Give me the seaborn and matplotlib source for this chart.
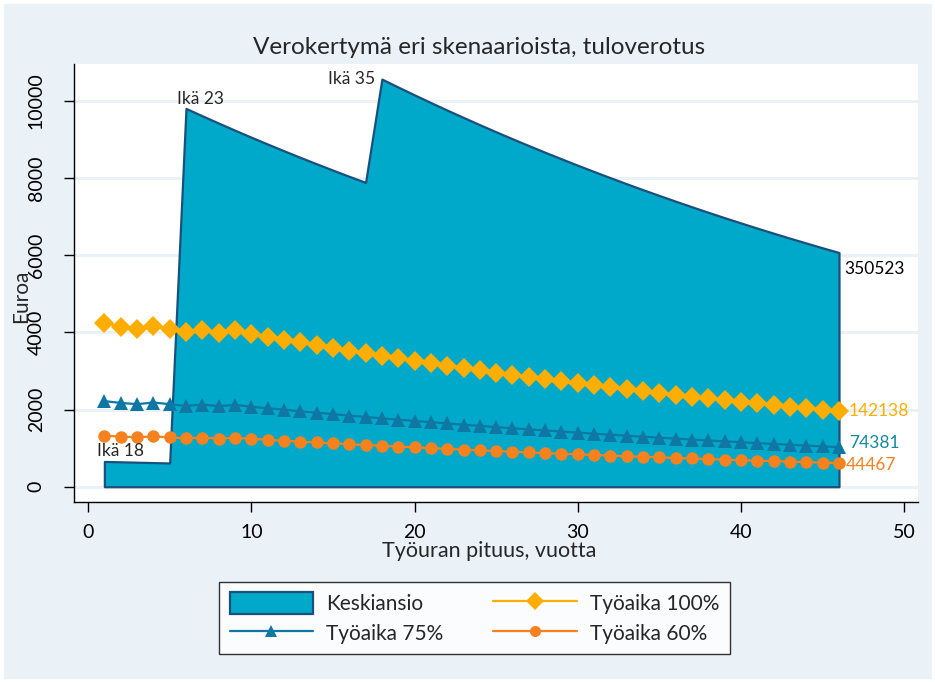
import matplotlib
matplotlib.use("Agg")
import matplotlib.pyplot as plt
import seaborn as sns
from matplotlib.patches import Rectangle, Patch
from matplotlib.lines import Line2D

# työuran vuodet 1..46
vuodet = list(range(1, 47))

keskiansio = [655, 645, 635, 625, 615,
              9800, 9608, 9420, 9235, 9054, 8877, 8703, 8532, 8365, 8201, 8040, 7883,
              10560, 10353, 10150, 9951, 9756, 9565, 9377, 9193, 9013, 8837, 8663, 8494,
              8327, 8164, 8004, 7847, 7693, 7543, 7395, 7250, 7108, 6968, 6832, 6698,
              6567, 6438, 6312, 6188, 6067]

tyoaika_100 = [4240, 4150, 4090, 4170, 4090, 4000, 4070, 3990, 4050, 3964, 3887, 3812,
               3738, 3665, 3594, 3524, 3456, 3389, 3323, 3259, 3196, 3134, 3073, 3013,
               2955, 2897, 2841, 2786, 2732, 2679, 2627, 2576, 2526, 2477, 2429, 2382,
               2336, 2290, 2246, 2202, 2160, 2118, 2077, 2036, 1997, 1958]

tyoaika_75 = [2218, 2170, 2139, 2181, 2139, 2092, 2129, 2087, 2118, 2073, 2033, 1994,
              1955, 1917, 1880, 1843, 1807, 1772, 1738, 1704, 1672, 1639, 1607, 1576,
              1545, 1515, 1486, 1457, 1429, 1401, 1374, 1347, 1321, 1295, 1270, 1246,
              1222, 1198, 1175, 1152, 1130, 1108, 1086, 1065, 1044, 1024]

tyoaika_60 = [1326, 1298, 1279, 1304, 1279, 1251, 1273, 1248, 1267, 1240, 1216, 1192,
              1169, 1146, 1124, 1102, 1081, 1060, 1039, 1019, 1000, 980, 961, 942,
              924, 906, 889, 871, 855, 838, 822, 806, 790, 775, 760, 745,
              731, 716, 703, 689, 676, 663, 650, 637, 625, 612]

sarjat = ["Keskiansio", "Työaika 100%", "Työaika 75%", "Työaika 60%"]
summat = ["350523", "142138", "74381", "44467"]
ika_tekstit = ["Ikä 18", "Ikä 23", "Ikä 35"]
ika_vuodet = [1, 6, 18]

c_area = "#00a9c9"
c_edge = "#1b4f7c"
c_100 = "#ffad00"
c_75 = "#0e77a4"
c_60 = "#f5821f"
c_bg = "#eaf2f8"

sns.set_style("ticks")
plt.rcParams["font.family"] = ["Lato", "DejaVu Sans"]

fig = plt.figure(figsize=(9.35, 6.82), dpi=100, facecolor="white")
fig.patches.append(Rectangle((4 / 935, 4 / 682), 927 / 935, 674 / 682,
                             transform=fig.transFigure, color=c_bg, zorder=-10))
ax = fig.add_axes([74 / 935, 1 - 502 / 682, 844 / 935, 438 / 682])
ax.set_facecolor("white")

# gridi
for yv in range(0, 10001, 2000):
    ax.axhline(yv, color=c_bg, lw=2.2, zorder=0)

ax.fill_between(vuodet, keskiansio, 0, facecolor=c_area, edgecolor=c_edge, lw=1.6, zorder=2)

sns.lineplot(x=vuodet, y=tyoaika_100, ax=ax, color=c_100, marker="D", markersize=10.5,
             markeredgewidth=0, lw=1.6, zorder=3)
sns.lineplot(x=vuodet, y=tyoaika_75, ax=ax, color=c_75, marker="^", markersize=10,
             markeredgewidth=0, lw=1.6, zorder=3)
sns.lineplot(x=vuodet, y=tyoaika_60, ax=ax, color=c_60, marker="o", markersize=9,
             markeredgewidth=0, lw=1.6, zorder=3)

# ikä-tekstit
i18 = vuodet.index(ika_vuodet[0])
ax.annotate(ika_tekstit[0], (ika_vuodet[0], keskiansio[i18]), xytext=(-7, 5),
            textcoords="offset pixels", ha="left", va="baseline", fontsize=12.5, zorder=5)
i23 = vuodet.index(ika_vuodet[1])
ax.annotate(ika_tekstit[1], (ika_vuodet[1], keskiansio[i23]), xytext=(-9, 4),
            textcoords="offset pixels", ha="left", va="baseline", fontsize=12.5, zorder=5)
i35 = vuodet.index(ika_vuodet[2])
ax.annotate(ika_tekstit[2], (ika_vuodet[2], keskiansio[i35]), xytext=(-7, -5),
            textcoords="offset pixels", ha="right", va="baseline", fontsize=12.5, zorder=5)

# loppusummat
ax.annotate(summat[0], (vuodet[-1], keskiansio[-1]), xytext=(5, -8),
            textcoords="offset pixels", ha="left", va="top", fontsize=12.5, color="black")
ax.annotate(summat[1], (vuodet[-1], tyoaika_100[-1]), xytext=(10, 0),
            textcoords="offset pixels", ha="left", va="center", fontsize=12.5, color=c_100)
ax.annotate(summat[2], (vuodet[-1], tyoaika_75[-1]), xytext=(10, 4),
            textcoords="offset pixels", ha="left", va="center", fontsize=12.5, color="#1589a0")
ax.annotate(summat[3], (vuodet[-1], tyoaika_60[-1]), xytext=(7, -2),
            textcoords="offset pixels", ha="left", va="center", fontsize=12.5, color=c_60)

ax.set_xlim(-0.86, 50.84)
ax.set_ylim(-396, 10951)
ax.set_xticks(range(0, 51, 10))
ax.set_yticks(range(0, 10001, 2000))
sns.despine(ax=ax)
for s in ["left", "bottom"]:
    ax.spines[s].set_color("black")
    ax.spines[s].set_linewidth(1.0)
ax.tick_params(axis="both", direction="out", length=7, width=1, color="black",
               labelsize=14, labelcolor="black")
ax.tick_params(axis="x", pad=9)
ax.tick_params(axis="y", pad=14, labelrotation=90)
for lab in ax.get_yticklabels():
    lab.set_va("center")

ax.set_xlabel("Työuran pituus, vuotta", fontsize=15.5)
ax.set_ylabel("Euroa", fontsize=15)
ax.xaxis.set_label_coords((489 - 74) / 844, -(551 - 502) / 438)
ax.yaxis.set_label_coords((21 - 74) / 844, 1 - (296 - 64) / 438)
ax.xaxis.label.set_va("center")
ax.yaxis.label.set_va("center")

fig.text(479 / 935, 1 - 47 / 682, "Verokertymä eri skenaarioista, tuloverotus",
         ha="center", va="center", fontsize=17.5)

handles = [
    Patch(facecolor=c_area, edgecolor=c_edge, lw=1.6),
    Line2D([], [], color=c_75, marker="^", markersize=9, markeredgewidth=0, lw=1.6),
    Line2D([], [], color=c_100, marker="D", markersize=9, markeredgewidth=0, lw=1.6),
    Line2D([], [], color=c_60, marker="o", markersize=8, markeredgewidth=0, lw=1.6),
]
labels = [sarjat[0], sarjat[2], sarjat[1], sarjat[3]]
leg = fig.legend(handles, labels, ncol=2, loc="center",
                 bbox_to_anchor=(474.5 / 935, 1 - 618 / 682), frameon=True,
                 fancybox=False, edgecolor="black", facecolor="white", fontsize=15,
                 handlelength=4.0, handleheight=1.25, handletextpad=0.63,
                 columnspacing=2.4, labelspacing=0.38, borderpad=0.5)
leg.get_frame().set_linewidth(1.0)

fig.savefig("out.png", dpi=100, facecolor="white")
